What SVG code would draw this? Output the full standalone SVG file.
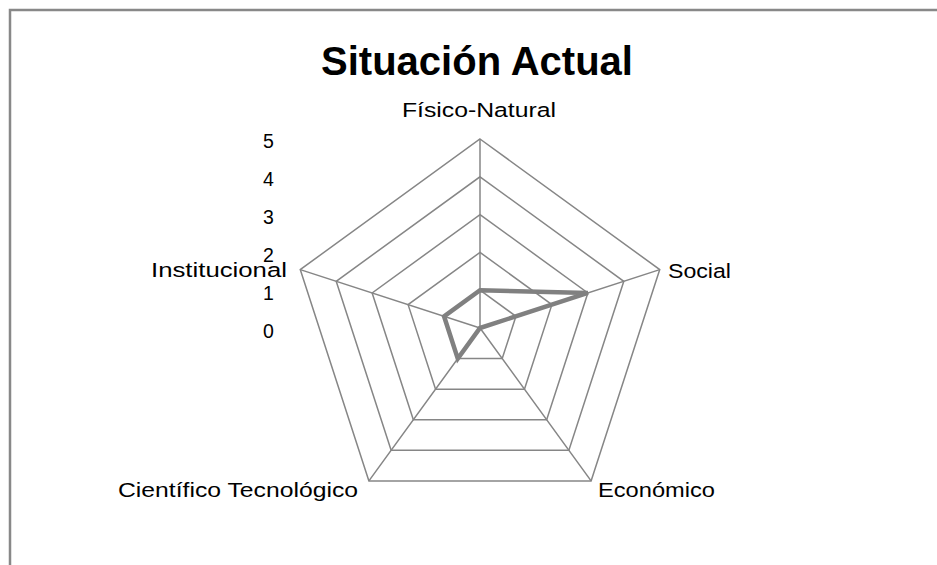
<svg xmlns="http://www.w3.org/2000/svg" width="937" height="565" viewBox="0 0 937 565">
<style>
.frame{fill:none;stroke:#888888;stroke-width:2.5}
.grid{fill:none;stroke:#868686;stroke-width:1.5}
.data{fill:none;stroke:#808080;stroke-width:4.5;stroke-linejoin:miter}
.lbl{font-family:"Liberation Sans",Arial,sans-serif;font-size:20.5px;fill:#000}
.tick{font-family:"Liberation Sans",Arial,sans-serif;font-size:19.5px;fill:#000;text-anchor:middle}
.title{font-family:"Liberation Sans",Arial,sans-serif;font-size:41px;font-weight:bold;fill:#000}
</style>
<rect width="937" height="565" fill="#ffffff"/>
<path class="frame" d="M10,565 L10,10 L937,10"/>
<text class="title" x="321" y="75" textLength="312" lengthAdjust="spacingAndGlyphs">Situación Actual</text>
<g id="grid">
<polygon class="grid" points="480,290.2 515.95,316.32 502.22,358.58 457.78,358.58 444.05,316.32"/>
<polygon class="grid" points="480,252.4 551.9,304.64 524.44,389.16 435.56,389.16 408.1,304.64"/>
<polygon class="grid" points="480,214.6 587.85,292.96 546.66,419.74 413.34,419.74 372.15,292.96"/>
<polygon class="grid" points="480,176.8 623.8,281.28 568.88,450.32 391.12,450.32 336.2,281.28"/>
<polygon class="grid" points="480,139 659.75,269.6 591.09,480.9 368.91,480.9 300.25,269.6"/>
<path class="grid" d="M480,328 L480,139 M480,328 L659.75,269.6 M480,328 L591.09,480.9 M480,328 L368.91,480.9 M480,328 L300.25,269.6"/>
</g>
<g id="ticks">
<text class="tick" x="268.5" y="148">5</text>
<text class="tick" x="268.5" y="186">4</text>
<text class="tick" x="268.5" y="224">3</text>
<text class="tick" x="268.5" y="262">2</text>
<text class="tick" x="268.5" y="300">1</text>
<text class="tick" x="268.5" y="338">0</text>
</g>
<g id="node-fisico"><text class="lbl" x="402" y="117" textLength="154" lengthAdjust="spacingAndGlyphs">Físico-Natural</text></g>
<g id="node-social"><text class="lbl" x="668" y="278" textLength="63" lengthAdjust="spacingAndGlyphs">Social</text></g>
<g id="node-economico"><text class="lbl" x="598" y="497" textLength="117" lengthAdjust="spacingAndGlyphs">Económico</text></g>
<g id="node-cientifico"><text class="lbl" x="118" y="497" textLength="240" lengthAdjust="spacingAndGlyphs">Científico Tecnológico</text></g>
<g id="node-institucional"><text class="lbl" x="151" y="277" textLength="136" lengthAdjust="spacingAndGlyphs">Institucional</text></g>
<g id="connectors">
<polygon class="data" points="480,290.2 587.85,292.96 480,328 457.78,358.58 444.05,316.32"/>
</g>
</svg>
